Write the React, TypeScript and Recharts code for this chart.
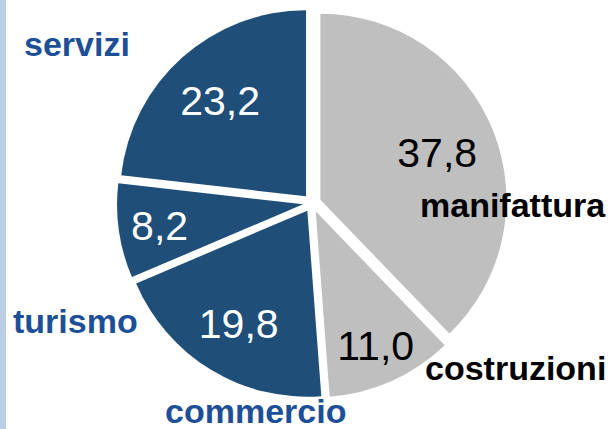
import { Cell, Pie, PieChart, Sector } from "recharts";

const categories = ["manifattura", "costruzioni", "commercio", "turismo", "servizi"];
const shares = [37.8, 11.0, 19.8, 8.2, 23.2];
const valueLabels = ["37,8", "11,0", "19,8", "8,2", "23,2"];

const BLUE = "#1f4e79";
const GREY = "#bfbfbf";
const NAME_BLUE = "#1d4f98";
const EXPLODE = 9;
const RADIAN = Math.PI / 180;

// where Excel put the texts: value radius from the centre, name anchor in px
const layout: Record<string, { r: number; nx: number; ny: number; dark: boolean }> = {
  manifattura: { r: 135, nx: 420, ny: 217, dark: false },
  costruzioni: { r: 156, nx: 425, ny: 380, dark: false },
  commercio: { r: 141, nx: 165, ny: 423, dark: true },
  turismo: { r: 154, nx: 13, ny: 333, dark: true },
  servizi: { r: 138, nx: 24, ny: 56, dark: true },
};

const data = categories.map((name, i) => ({
  name,
  value: shares[i],
  label: valueLabels[i],
}));

// pull every slice out along its mid angle
function ExplodedSlice(props: any) {
  const { cx, cy, midAngle } = props;
  return (
    <Sector
      {...props}
      cx={cx + EXPLODE * Math.cos(-midAngle * RADIAN)}
      cy={cy + EXPLODE * Math.sin(-midAngle * RADIAN)}
    />
  );
}

function SliceLabel(props: any) {
  const { cx, cy, midAngle, index } = props;
  const d = data[index];
  const l = layout[d.name];
  const x = cx + l.r * Math.cos(-midAngle * RADIAN);
  const y = cy + l.r * Math.sin(-midAngle * RADIAN);
  return (
    <g>
      <text
        x={x}
        y={y + 41 * 0.358}
        textAnchor="middle"
        fontSize={41}
        fill={l.dark ? "#ffffff" : "#000000"}
        fontFamily="'Liberation Sans', Arial, sans-serif"
      >
        {d.label}
      </text>
      <text
        x={l.nx}
        y={l.ny}
        fontSize={34}
        fontWeight="bold"
        fill={l.dark ? NAME_BLUE : "#000000"}
        fontFamily="'Liberation Sans', Arial, sans-serif"
      >
        {d.name}
      </text>
    </g>
  );
}

export default function App() {
  return (
    <div
      style={{
        position: "absolute",
        left: 0,
        top: 0,
        width: 610,
        height: 429,
        background: "#ffffff",
        overflow: "hidden",
      }}
    >
      <div
        style={{
          position: "absolute",
          left: 0,
          top: 0,
          width: 6,
          height: 429,
          background: "#b9cde5",
        }}
      />
      <PieChart width={610} height={429} margin={{ top: 0, right: 0, bottom: 0, left: 0 }}>
        <Pie
          data={data}
          dataKey="value"
          nameKey="name"
          cx={312}
          cy={203}
          outerRadius={186}
          startAngle={90}
          endAngle={-270}
          stroke="none"
          shape={ExplodedSlice}
          label={SliceLabel}
          labelLine={false}
          isAnimationActive={false}
        >
          {data.map((d) => (
            <Cell key={d.name} fill={layout[d.name].dark ? BLUE : GREY} />
          ))}
        </Pie>
      </PieChart>
    </div>
  );
}
